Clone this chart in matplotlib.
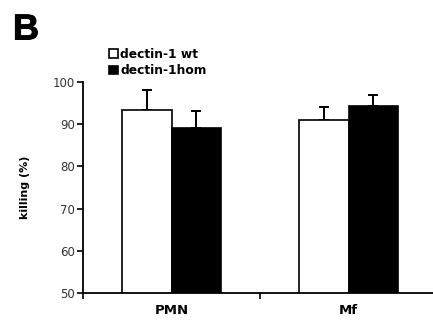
import numpy as np
import matplotlib.pyplot as plt
import matplotlib.patheffects as pe

groups = ['PMN', 'Mf']
series = ['dectin-1 wt', 'dectin-1hom']
wt_vals = [93.3, 91.0]
hom_vals = [89.2, 94.3]
wt_err = [4.8, 3.0]
hom_err = [4.0, 2.7]

fig = plt.figure(figsize=(4.33, 3.29), dpi=100)
ax = fig.add_axes([0.1917, 0.1094, 0.8176, 0.6414])

x = np.arange(len(groups)) + 0.5
w = 0.28
b1 = ax.bar(x - w / 2, wt_vals, w, color='white', edgecolor='black', linewidth=1.2,
            label=series[0], zorder=2)
b2 = ax.bar(x + w / 2, hom_vals, w, color='black', edgecolor='black', linewidth=1.2,
            label=series[1], zorder=2)
ax.errorbar(x - w / 2, wt_vals, yerr=[np.zeros(2), wt_err], fmt='none', ecolor='black',
            elinewidth=1.4, capsize=3.6, capthick=1.4, zorder=1)
ax.errorbar(x + w / 2, hom_vals, yerr=[np.zeros(2), hom_err], fmt='none', ecolor='black',
            elinewidth=1.4, capsize=3.6, capthick=1.4, zorder=1)

ax.set_xlim(0, 2)
ax.set_ylim(50, 100)
ax.set_yticks(range(50, 101, 10))
ax.set_xticks([0, 1, 2])
ax.set_xticklabels([])
ax.set_xticks(x, minor=True)
ax.set_xticklabels(groups, minor=True, fontweight='bold', fontsize=9.5)
ax.tick_params(axis='x', which='minor', length=0, pad=8)
ax.tick_params(axis='x', which='major', length=4, width=1.2, direction='out')
ax.tick_params(axis='y', length=4, width=1.2, direction='out', labelsize=8.5,
               labelcolor='#333333', pad=2)
for s in ['top', 'right']:
    ax.spines[s].set_visible(False)
for s in ['left', 'bottom']:
    ax.spines[s].set_linewidth(1.3)
ax.set_ylabel('killing (%)', fontweight='bold', fontsize=8, labelpad=16)

fig.legend(handles=[b1, b2], loc='upper left', bbox_to_anchor=(0.252, 0.855),
           frameon=False, prop={'weight': 'bold', 'size': 8.8},
           handlelength=0.7, handleheight=0.7, handletextpad=0.2,
           labelspacing=0.28, borderpad=0, borderaxespad=0)

# panel letter, thickened a little to match the heavy original
fig.text(0.030, 0.962, 'B', fontsize=26, fontweight='bold', family='Liberation Sans',
         va='top', ha='left',
         path_effects=[pe.withStroke(linewidth=0.7, foreground='black')])

fig.savefig('out.png', dpi=100)
